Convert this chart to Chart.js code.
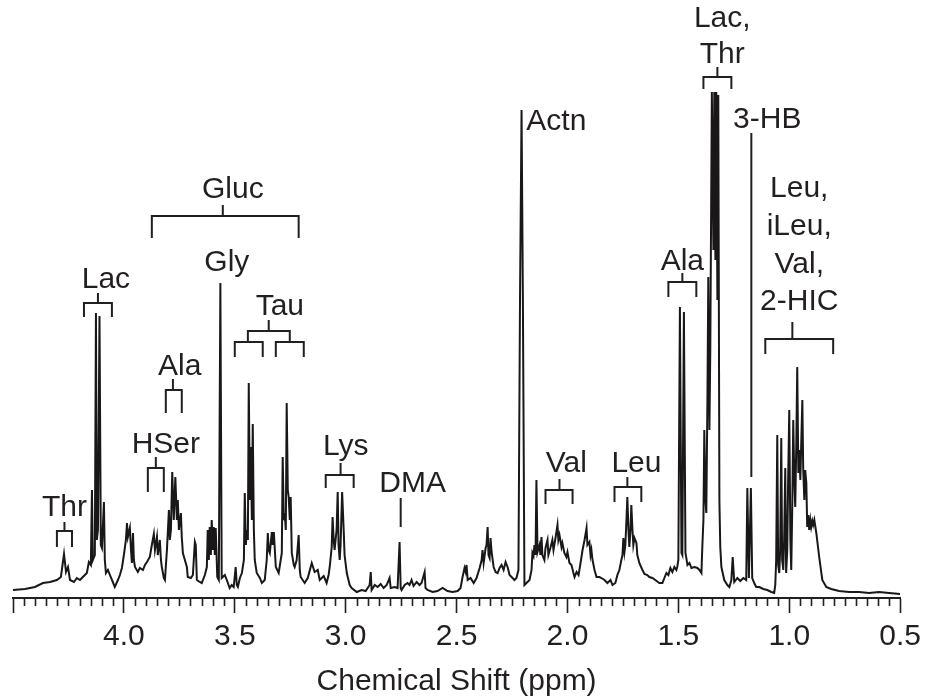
<!DOCTYPE html>
<html>
<head>
<meta charset="utf-8">
<script src="https://cdn.jsdelivr.net/npm/chart.js@4.4.1/dist/chart.umd.min.js"></script>
<style>
  html, body { margin: 0; padding: 0; background: #ffffff; }
  #wrap { width: 927px; height: 700px; }
</style>
</head>
<body>
<div id="wrap"><canvas id="nmrChart" width="927" height="700"></canvas></div>
<script>
const ink = '#231f20';
const fontFamily = '"Liberation Sans", Arial, Helvetica, sans-serif';

// spectrum, chemical shift (ppm) and intensity
const ppm = [
    4.500, 4.446, 4.401, 4.365, 4.333, 4.302, 4.284, 4.270, 4.261, 4.252,
    4.243, 4.225, 4.212, 4.198, 4.185, 4.167, 4.158, 4.149, 4.144, 4.140,
    4.131, 4.126, 4.122, 4.117, 4.110, 4.104, 4.099, 4.090, 4.086, 4.081,
    4.072, 4.063, 4.050, 4.041, 4.027, 4.018, 4.009, 4.000, 3.991, 3.986,
    3.982, 3.973, 3.968, 3.964, 3.959, 3.955, 3.950, 3.937, 3.928, 3.914,
    3.905, 3.896, 3.883, 3.874, 3.865, 3.860, 3.851, 3.847, 3.838, 3.833,
    3.829, 3.820, 3.815, 3.806, 3.797, 3.793, 3.788, 3.782, 3.775, 3.768,
    3.761, 3.757, 3.752, 3.743, 3.739, 3.734, 3.725, 3.716, 3.712, 3.698,
    3.689, 3.680, 3.676, 3.671, 3.658, 3.649, 3.635, 3.626, 3.622, 3.617,
    3.613, 3.608, 3.604, 3.599, 3.595, 3.590, 3.586, 3.579, 3.572, 3.565,
    3.559, 3.554, 3.545, 3.536, 3.523, 3.514, 3.505, 3.496, 3.491, 3.486,
    3.477, 3.468, 3.459, 3.455, 3.450, 3.446, 3.441, 3.437, 3.432, 3.428,
    3.423, 3.419, 3.414, 3.410, 3.401, 3.387, 3.378, 3.365, 3.356, 3.351,
    3.347, 3.342, 3.333, 3.329, 3.324, 3.315, 3.302, 3.293, 3.288, 3.284,
    3.279, 3.275, 3.270, 3.266, 3.261, 3.257, 3.252, 3.248, 3.243, 3.234,
    3.230, 3.221, 3.212, 3.207, 3.203, 3.185, 3.171, 3.153, 3.140, 3.126,
    3.117, 3.099, 3.086, 3.077, 3.072, 3.063, 3.059, 3.054, 3.050, 3.041,
    3.036, 3.032, 3.027, 3.023, 3.016, 3.009, 3.005, 2.995, 2.982, 2.973,
    2.950, 2.928, 2.910, 2.892, 2.887, 2.883, 2.869, 2.856, 2.842, 2.829,
    2.815, 2.802, 2.797, 2.779, 2.766, 2.757, 2.752, 2.748, 2.734, 2.721,
    2.712, 2.703, 2.694, 2.680, 2.667, 2.658, 2.644, 2.640, 2.631, 2.608,
    2.586, 2.563, 2.541, 2.518, 2.495, 2.482, 2.473, 2.464, 2.459, 2.455,
    2.450, 2.437, 2.423, 2.410, 2.396, 2.387, 2.383, 2.378, 2.369, 2.365,
    2.360, 2.356, 2.351, 2.347, 2.342, 2.333, 2.324, 2.315, 2.306, 2.297,
    2.288, 2.279, 2.270, 2.261, 2.252, 2.239, 2.230, 2.221, 2.214, 2.207,
    2.201, 2.194, 2.185, 2.171, 2.162, 2.158, 2.153, 2.149, 2.144, 2.140,
    2.135, 2.126, 2.122, 2.117, 2.113, 2.104, 2.099, 2.090, 2.086, 2.077,
    2.068, 2.063, 2.054, 2.045, 2.041, 2.036, 2.027, 2.023, 2.014, 2.005,
    2.000, 1.991, 1.982, 1.973, 1.968, 1.959, 1.950, 1.941, 1.932, 1.923,
    1.914, 1.910, 1.901, 1.896, 1.892, 1.887, 1.878, 1.869, 1.856, 1.847,
    1.833, 1.820, 1.806, 1.797, 1.784, 1.775, 1.766, 1.757, 1.752, 1.748,
    1.743, 1.739, 1.734, 1.730, 1.725, 1.721, 1.716, 1.712, 1.707, 1.703,
    1.698, 1.689, 1.685, 1.676, 1.662, 1.653, 1.640, 1.631, 1.617, 1.604,
    1.586, 1.572, 1.563, 1.554, 1.545, 1.536, 1.527, 1.518, 1.509, 1.505,
    1.500, 1.493, 1.486, 1.482, 1.475, 1.468, 1.459, 1.450, 1.441, 1.428,
    1.414, 1.405, 1.396, 1.392, 1.387, 1.383, 1.378, 1.374, 1.369, 1.365,
    1.360, 1.356, 1.349, 1.342, 1.338, 1.333, 1.329, 1.324, 1.320, 1.315,
    1.311, 1.306, 1.293, 1.279, 1.270, 1.261, 1.255, 1.248, 1.234, 1.221,
    1.207, 1.194, 1.189, 1.182, 1.173, 1.167, 1.158, 1.149, 1.135, 1.117,
    1.099, 1.081, 1.068, 1.063, 1.059, 1.054, 1.050, 1.045, 1.041, 1.036,
    1.032, 1.027, 1.023, 1.018, 1.014, 1.009, 1.005, 1.000, 0.995, 0.991,
    0.986, 0.982, 0.977, 0.973, 0.968, 0.964, 0.959, 0.955, 0.950, 0.946,
    0.941, 0.937, 0.932, 0.928, 0.923, 0.919, 0.914, 0.910, 0.905, 0.901,
    0.896, 0.892, 0.887, 0.878, 0.865, 0.851, 0.833, 0.811, 0.775, 0.730,
    0.685, 0.640, 0.595, 0.550, 0.500
];
const intensity = [
    8, 9, 11, 15, 16, 18, 21, 44, 26, 31,
    18, 16, 20, 18, 21, 25, 36, 33, 108, 38,
    43, 285, 58, 68, 282, 53, 50, 96, 38, 25,
    28, 23, 16, 11, 18, 23, 30, 43, 58, 75,
    61, 70, 48, 35, 65, 38, 31, 26, 30, 28,
    33, 36, 41, 53, 64, 48, 61, 43, 58, 38,
    31, 20, 18, 48, 88, 58, 68, 126, 78, 121,
    78, 98, 68, 85, 61, 45, 38, 31, 21, 20,
    23, 56, 53, 18, 16, 15, 23, 31, 68, 38,
    71, 43, 78, 48, 71, 43, 70, 21, 18, 315,
    20, 21, 23, 18, 10, 13, 11, 31, 13, 11,
    20, 25, 38, 105, 53, 68, 58, 215, 98, 151,
    78, 174, 68, 38, 25, 20, 15, 18, 38, 65,
    48, 45, 66, 53, 66, 31, 25, 38, 45, 141,
    78, 85, 68, 195, 108, 101, 78, 101, 45, 33,
    31, 38, 63, 28, 21, 15, 20, 35, 26, 28,
    18, 22, 15, 23, 31, 51, 81, 58, 48, 68,
    106, 53, 38, 53, 106, 68, 43, 25, 13, 10,
    6, 8, 7, 13, 26, 8, 13, 11, 14, 10,
    13, 20, 10, 11, 10, 56, 10, 8, 13, 15,
    13, 18, 12, 16, 13, 15, 26, 10, 8, 6,
    7, 10, 7, 6, 7, 10, 21, 30, 26, 33,
    18, 20, 15, 20, 30, 38, 48, 35, 50, 53,
    71, 43, 40, 60, 46, 31, 26, 25, 30, 33,
    28, 36, 31, 23, 21, 18, 20, 28, 298, 488,
    298, 13, 15, 18, 28, 45, 42, 53, 43, 118,
    46, 53, 43, 61, 43, 38, 50, 58, 43, 50,
    58, 48, 60, 73, 58, 63, 51, 55, 45, 41,
    46, 35, 33, 25, 21, 26, 23, 35, 48, 58,
    70, 53, 56, 43, 48, 38, 28, 21, 21, 20,
    18, 15, 18, 13, 15, 23, 28, 38, 43, 60,
    46, 53, 78, 101, 68, 51, 68, 93, 68, 53,
    60, 55, 43, 35, 28, 24, 23, 21, 20, 18,
    15, 15, 20, 25, 23, 30, 26, 31, 28, 31,
    38, 291, 45, 43, 286, 45, 33, 35, 30, 31,
    30, 28, 25, 51, 78, 168, 98, 85, 198, 321,
    168, 248, 506, 348, 506, 338, 506, 298, 503, 98,
    51, 31, 18, 13, 11, 18, 41, 16, 20, 17,
    20, 18, 110, 20, 110, 20, 15, 11, 11, 9,
    8, 6, 5, 13, 38, 163, 33, 25, 48, 160,
    38, 28, 58, 130, 25, 48, 118, 188, 58, 28,
    98, 178, 118, 91, 158, 231, 125, 148, 118, 155,
    198, 128, 98, 128, 115, 71, 83, 68, 78, 71,
    77, 73, 78, 65, 41, 18, 11, 9, 7, 6,
    6, 5, 6, 5, 4
];

// axis ticks
const majorTicks = [4.5, 4.0, 3.5, 3.0, 2.5, 2.0, 1.5, 1.0, 0.5];
const tickLabels = ['', '4.0', '3.5', '3.0', '2.5', '2.0', '1.5', '1.0', '0.5'];

// metabolite labels: text, centre shift, baseline height
const labelText = ['Thr', 'Lac', 'HSer', 'Ala', 'Gluc', 'Gly', 'Tau', 'Lys', 'DMA', 'Actn',
    'Val', 'Leu', 'Ala', 'Lac,', 'Thr', '3-HB', 'Leu,', 'iLeu,', 'Val,', '2-HIC'];
const labelPpm = [4.268, 4.081, 3.811, 3.748, 3.509, 3.536, 3.297, 3.000, 2.698, 2.050,
    2.005, 1.689, 1.482, 1.302, 1.302, 1.099, 0.955, 0.955, 0.955, 0.955];
const labelBase = [82, 310, 145, 223, 400, 327, 283, 143, 106, 468,
    126, 126, 328, 571, 535, 470, 401, 363, 325, 288];

// brackets: left / right leg, stem position, stem top, bar, leg bottom
const bracketLeft = [4.302, 4.180, 3.892, 3.811, 3.874, 3.441, 3.500, 3.315, 3.090, 2.099, 1.788, 1.545, 1.387, 1.108];
const bracketRight = [4.234, 4.054, 3.820, 3.739, 3.212, 3.252, 3.374, 3.189, 2.964, 1.977, 1.667, 1.419, 1.261, 0.802];
const bracketStem = [4.268, 4.117, 3.856, 3.779, 3.554, 3.347, 3.441, 3.252, 3.023, 2.036, 1.730, 1.482, 1.324, 0.986];
const bracketTop = [76, 305, 141, 219, 393, 278, 256, 256, 135, 119, 121, 325, 531, 276];
const bracketBar = [67, 295, 130, 208, 382, 267, 256, 256, 123, 108, 111, 316, 521, 259];
const bracketLeg = [51, 281, 106, 185, 360, 256, 241, 241, 110, 94, 96, 301, 509, 244];

// single leader lines (DMA, 3-HB)
const leaderPpm = [2.752, 1.171];
const leaderTop = [100, 465];
const leaderBottom = [71, 121];

function isMajor(v) {
    return majorTicks.some(m => Math.abs(m - v) < 1e-6);
}

const annotationPlugin = {
    id: 'nmrAnnotations',
    afterDraw(chart) {
        const { ctx } = chart;
        const xs = chart.scales.x;
        const ys = chart.scales.y;
        const px = v => xs.getPixelForValue(v);
        const py = v => ys.getPixelForValue(v);

        ctx.save();
        ctx.strokeStyle = ink;
        ctx.fillStyle = ink;

        // minor ticks
        ctx.lineWidth = 1.6;
        ctx.beginPath();
        xs.ticks.forEach(t => {
            if (isMajor(t.value)) return;
            const x = Math.round(px(t.value)) + 0.5;
            ctx.moveTo(x, xs.top);
            ctx.lineTo(x, xs.top + 8);
        });
        ctx.stroke();

        // brackets
        ctx.lineWidth = 2;
        ctx.beginPath();
        bracketLeft.forEach((l, i) => {
            const xl = px(l), xr = px(bracketRight[i]), xc = px(bracketStem[i]);
            const yb = py(bracketBar[i]), yl = py(bracketLeg[i]);
            ctx.moveTo(xc, py(bracketTop[i]));
            ctx.lineTo(xc, yb);
            ctx.moveTo(xl, yl);
            ctx.lineTo(xl, yb);
            ctx.lineTo(xr, yb);
            ctx.lineTo(xr, yl);
        });
        leaderPpm.forEach((p, i) => {
            ctx.moveTo(px(p), py(leaderTop[i]));
            ctx.lineTo(px(p), py(leaderBottom[i]));
        });
        ctx.stroke();

        // labels
        ctx.font = '30px ' + fontFamily;
        ctx.textAlign = 'center';
        ctx.textBaseline = 'alphabetic';
        labelText.forEach((t, i) => {
            ctx.fillText(t, px(labelPpm[i]), py(labelBase[i]));
        });
        ctx.restore();
    }
};

new Chart(document.getElementById('nmrChart').getContext('2d'), {
    type: 'line',
    data: {
        datasets: [{
            data: ppm.map((p, i) => ({ x: p, y: intensity[i] })),
            borderColor: '#1a1718',
            borderWidth: 2,
            pointRadius: 0,
            tension: 0,
            fill: false
        }]
    },
    options: {
        responsive: false,
        animation: false,
        events: [],
        layout: { padding: { left: 13, right: 26, top: 0, bottom: 0 } },
        plugins: {
            legend: { display: false },
            tooltip: { enabled: false }
        },
        scales: {
            x: {
                type: 'linear',
                reverse: true,
                min: 0.5,
                max: 4.5,
                afterFit: s => { s.height = 102; },
                border: { display: true, color: ink, width: 2 },
                grid: {
                    drawOnChartArea: false,
                    drawTicks: true,
                    tickLength: 15,
                    tickWidth: 1.6,
                    tickColor: c => (c.tick && isMajor(c.tick.value)) ? ink : 'rgba(0,0,0,0)'
                },
                ticks: {
                    stepSize: 0.05,
                    autoSkip: false,
                    maxRotation: 0,
                    padding: 6,
                    color: ink,
                    font: { family: fontFamily, size: 30 },
                    callback: v => {
                        const idx = majorTicks.findIndex(m => Math.abs(m - v) < 1e-6);
                        return idx >= 0 ? tickLabels[idx] : '';
                    }
                },
                title: {
                    display: true,
                    text: 'Chemical Shift (ppm)',
                    color: ink,
                    font: { family: fontFamily, size: 30 },
                    padding: { top: 0, bottom: 0 }
                }
            },
            y: {
                display: false,
                min: 0,
                max: 598
            }
        }
    },
    plugins: [annotationPlugin]
});
</script>
</body>
</html>
